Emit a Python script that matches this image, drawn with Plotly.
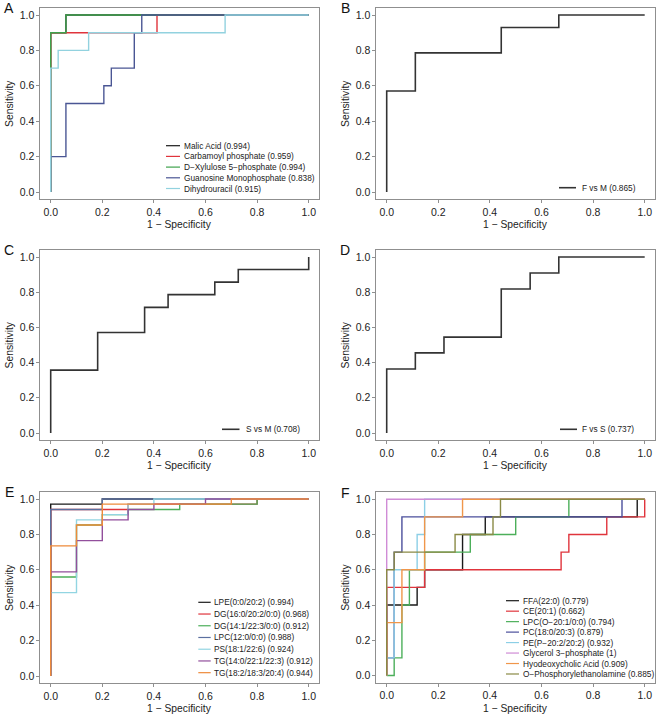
import plotly.graph_objects as go

W, H = 661, 722
FONT = "Liberation Sans, Arial, sans-serif"

# ---------------- data ----------------
# Panel A
a_names = ["Malic Acid (0.994)", "Carbamoyl phosphate (0.959)", "D−Xylulose 5−phosphate (0.994)",
           "Guanosine Monophosphate (0.838)", "Dihydrouracil (0.915)"]
a_malic_fpr = [0, 0, 0.059, 0.059, 1]
a_malic_tpr = [0, 0.9, 0.9, 1, 1]
a_carb_fpr = [0, 0, 0.412, 0.412, 1]
a_carb_tpr = [0, 0.9, 0.9, 1, 1]
a_xyl_fpr = [0, 0, 0.059, 0.059, 1]
a_xyl_tpr = [0, 0.9, 0.9, 1, 1]
a_guan_fpr = [0, 0, 0.059, 0.059, 0.206, 0.206, 0.235, 0.235, 0.324, 0.324, 0.353, 0.353, 1]
a_guan_tpr = [0, 0.2, 0.2, 0.5, 0.5, 0.6, 0.6, 0.7, 0.7, 0.9, 0.9, 1, 1]
a_dihy_fpr = [0, 0, 0.029, 0.029, 0.147, 0.147, 0.676, 0.676, 1]
a_dihy_tpr = [0, 0.7, 0.7, 0.8, 0.8, 0.9, 0.9, 1, 1]

# Panel B
b_names = ["F vs M (0.865)"]
b_fpr = [0, 0, 0.111, 0.111, 0.444, 0.444, 0.667, 0.667, 1]
b_tpr = [0, 0.571, 0.571, 0.786, 0.786, 0.929, 0.929, 1, 1]

# Panel C
c_names = ["S vs M (0.708)"]
c_fpr = [0, 0, 0.182, 0.182, 0.364, 0.364, 0.455, 0.455, 0.636, 0.636, 0.727, 0.727, 1, 1]
c_tpr = [0, 0.357, 0.357, 0.571, 0.571, 0.714, 0.714, 0.786, 0.786, 0.857, 0.857, 0.929, 0.929, 1]

# Panel D
d_names = ["F vs S (0.737)"]
d_fpr = [0, 0, 0.111, 0.111, 0.222, 0.222, 0.444, 0.444, 0.556, 0.556, 0.667, 0.667, 1]
d_tpr = [0, 0.364, 0.364, 0.455, 0.455, 0.545, 0.545, 0.818, 0.818, 0.909, 0.909, 1, 1]

# Panel E
e_names = ["LPE(0:0/20:2) (0.994)", "DG(16:0/20:2/0:0) (0.968)", "DG(14:1/22:3/0:0) (0.912)",
           "LPC(12:0/0:0) (0.988)", "PS(18:1/22:6) (0.924)", "TG(14:0/22:1/22:3) (0.912)",
           "TG(18:2/18:3/20:4) (0.944)"]
e_lpe_fpr = [0, 0, 0.2, 0.2, 1]
e_lpe_tpr = [0, 0.971, 0.971, 1, 1]
e_dg16_fpr = [0, 0, 0.3, 0.3, 0.8, 0.8, 1]
e_dg16_tpr = [0, 0.941, 0.941, 0.971, 0.971, 1, 1]
e_dg14_fpr = [0, 0, 0.1, 0.1, 0.2, 0.2, 0.3, 0.3, 0.5, 0.5, 0.8, 0.8, 1]
e_dg14_tpr = [0, 0.559, 0.559, 0.853, 0.853, 0.912, 0.912, 0.941, 0.941, 0.971, 0.971, 1, 1]
e_lpc_fpr = [0, 0, 0.2, 0.2, 1]
e_lpc_tpr = [0, 0.941, 0.941, 1, 1]
e_ps_fpr = [0, 0, 0.1, 0.1, 0.2, 0.2, 0.3, 0.3, 0.4, 0.4, 1]
e_ps_tpr = [0, 0.471, 0.471, 0.882, 0.882, 0.912, 0.912, 0.971, 0.971, 1, 1]
e_tg14_fpr = [0, 0, 0.1, 0.1, 0.2, 0.2, 0.3, 0.3, 0.4, 0.4, 0.6, 0.6, 1]
e_tg14_tpr = [0, 0.588, 0.588, 0.765, 0.765, 0.882, 0.882, 0.941, 0.941, 0.971, 0.971, 1, 1]
e_tg18_fpr = [0, 0, 0.1, 0.1, 0.2, 0.2, 0.7, 0.7, 1]
e_tg18_tpr = [0, 0.735, 0.735, 0.853, 0.853, 0.971, 0.971, 1, 1]

# Panel F
f_names = ["FFA(22:0) (0.779)", "CE(20:1) (0.662)", "LPC(O−20:1/0:0) (0.794)", "PC(18:0/20:3) (0.879)",
           "PE(P−20:2/20:2) (0.932)", "Glycerol 3−phosphate (1)", "Hyodeoxycholic Acid (0.909)",
           "O−Phosphorylethanolamine (0.885)"]
f_ffa_fpr = [0, 0, 0.118, 0.118, 0.147, 0.147, 0.294, 0.294, 0.382, 0.382, 0.971, 0.971, 1]
f_ffa_tpr = [0, 0.4, 0.4, 0.5, 0.5, 0.6, 0.6, 0.8, 0.8, 0.9, 0.9, 1, 1]
f_ce_fpr = [0, 0, 0.147, 0.147, 0.676, 0.676, 0.706, 0.706, 0.853, 0.853, 1, 1]
f_ce_tpr = [0, 0.5, 0.5, 0.6, 0.6, 0.7, 0.7, 0.8, 0.8, 0.9, 0.9, 1]
f_lpco_fpr = [0, 0.029, 0.029, 0.059, 0.059, 0.088, 0.088, 0.147, 0.147, 0.324, 0.324, 0.5, 0.5, 0.706, 0.706, 1]
f_lpco_tpr = [0, 0, 0.1, 0.1, 0.4, 0.4, 0.6, 0.6, 0.7, 0.7, 0.8, 0.8, 0.9, 0.9, 1, 1]
f_pc_fpr = [0, 0, 0.029, 0.029, 0.059, 0.059, 0.912, 0.912, 1]
f_pc_tpr = [0, 0.1, 0.1, 0.7, 0.7, 0.9, 0.9, 1, 1]
f_pe_fpr = [0, 0, 0.029, 0.029, 0.118, 0.118, 0.147, 0.147, 1]
f_pe_tpr = [0, 0.1, 0.1, 0.6, 0.6, 0.8, 0.8, 1, 1]
f_g3p_fpr = [0, 0, 1]
f_g3p_tpr = [0, 1, 1]
f_hdca_fpr = [0, 0, 0.059, 0.059, 0.147, 0.147, 0.294, 0.294, 1]
f_hdca_tpr = [0, 0.3, 0.3, 0.6, 0.6, 0.9, 0.9, 1, 1]
f_ope_fpr = [0, 0, 0.029, 0.029, 0.265, 0.265, 0.412, 0.412, 0.441, 0.441, 1]
f_ope_tpr = [0, 0.6, 0.6, 0.7, 0.7, 0.8, 0.8, 0.9, 0.9, 1, 1]

tick_vals = [0, 0.2, 0.4, 0.6, 0.8, 1.0]
tick_text = ["0.0", "0.2", "0.4", "0.6", "0.8", "1.0"]

# ---------------- styling ----------------
a_colors = ["#1a1a1a", "#e0343c", "#3fa34d", "#4a5694", "#92d2df"]
e_colors = ["#1a1a1a", "#e0343c", "#4caf5a", "#5b70a0", "#92d5e2", "#924f9c", "#ee8a3a"]
f_colors = ["#1a1a1a", "#e0343c", "#4caf5a", "#4b4f9c", "#8ccfe6", "#d08cd6", "#f0964a", "#8a8a45"]
single_color = "#333333"

# pixel geometry: (x of 0, x of 1, y of 0, y of 1)
geo = {
    "A": (50.7, 308.7, 192.0, 15.0),
    "B": (386.7, 644.7, 192.0, 15.0),
    "C": (50.7, 308.7, 433.0, 257.0),
    "D": (386.7, 644.7, 433.0, 257.0),
    "E": (50.7, 308.7, 676.0, 499.0),
    "F": (386.7, 644.7, 675.5, 499.3),
}

panels = [
    ("A", [(a_malic_fpr, a_malic_tpr), (a_carb_fpr, a_carb_tpr), (a_xyl_fpr, a_xyl_tpr),
           (a_guan_fpr, a_guan_tpr), (a_dihy_fpr, a_dihy_tpr)], a_names, a_colors, 1.4,
     dict(lx0=166, lx1=180, tx=181.5, y0=145.7, dy=10.7)),
    ("B", [(b_fpr, b_tpr)], b_names, [single_color], 1.6,
     dict(lx0=559, lx1=576, tx=579.5, y0=187.7, dy=10.7)),
    ("C", [(c_fpr, c_tpr)], c_names, [single_color], 1.6,
     dict(lx0=222, lx1=239.5, tx=243.5, y0=429.3, dy=10.7)),
    ("D", [(d_fpr, d_tpr)], d_names, [single_color], 1.6,
     dict(lx0=560, lx1=577, tx=579.5, y0=429.3, dy=10.7)),
    ("E", [(e_lpe_fpr, e_lpe_tpr), (e_dg16_fpr, e_dg16_tpr), (e_dg14_fpr, e_dg14_tpr),
           (e_lpc_fpr, e_lpc_tpr), (e_ps_fpr, e_ps_tpr), (e_tg14_fpr, e_tg14_tpr),
           (e_tg18_fpr, e_tg18_tpr)], e_names, e_colors, 1.4,
     dict(lx0=198.3, lx1=210.7, tx=212.3, y0=602.3, dy=11.73)),
    ("F", [(f_ffa_fpr, f_ffa_tpr), (f_ce_fpr, f_ce_tpr), (f_lpco_fpr, f_lpco_tpr),
           (f_pc_fpr, f_pc_tpr), (f_pe_fpr, f_pe_tpr), (f_g3p_fpr, f_g3p_tpr),
           (f_hdca_fpr, f_hdca_tpr), (f_ope_fpr, f_ope_tpr)], f_names, f_colors, 1.4,
     dict(lx0=506, lx1=519, tx=520.7, y0=600.7, dy=10.47)),
]

fig = go.Figure()
layout = dict(width=W, height=H, autosize=False, margin=dict(l=0, r=0, t=0, b=0),
              paper_bgcolor="white", plot_bgcolor="white", showlegend=False,
              font=dict(family=FONT, color="#222222"))
shapes, annotations = [], []

PAD = 0.04
for i, (key, curves, names, colors, lw, leg) in enumerate(panels):
    n = "" if i == 0 else str(i + 1)
    x0, x1, y0, y1 = geo[key]
    sx = x1 - x0
    sy = y0 - y1
    left, right = x0 - PAD * sx, x1 + PAD * sx
    bottom, top = y0 + PAD * sy, y1 - PAD * sy
    axcommon = dict(range=[-PAD, 1 + PAD], showgrid=False, zeroline=False, showline=True,
                    mirror=True, linecolor="#8f8f8f", linewidth=1, ticks="outside",
                    ticklen=3, tickcolor="#8f8f8f", tickvals=tick_vals, ticktext=tick_text,
                    tickfont=dict(size=10.5, color="#222222", family=FONT), fixedrange=True)
    layout["xaxis" + n] = dict(axcommon, domain=[left / W, right / W], anchor="y" + n)
    layout["yaxis" + n] = dict(axcommon, domain=[1 - bottom / H, 1 - top / H], anchor="x" + n)

    for (fpr, tpr), name, col in zip(curves, names, colors):
        fig.add_trace(go.Scatter(x=fpr, y=tpr, mode="lines", name=name,
                                 line=dict(color=col, width=lw),
                                 xaxis="x" + n, yaxis="y" + n, hoverinfo="skip"))

    # legend (drawn manually for tight spacing)
    for j, (name, col) in enumerate(zip(names, colors)):
        yy = 1 - (leg["y0"] + j * leg["dy"]) / H
        shapes.append(dict(type="line", xref="paper", yref="paper",
                           x0=leg["lx0"] / W, x1=leg["lx1"] / W, y0=yy, y1=yy,
                           line=dict(color=col, width=lw if lw > 1.5 else 1.2)))
        annotations.append(dict(text=name, xref="paper", yref="paper", x=leg["tx"] / W, y=yy,
                                xanchor="left", yanchor="middle", showarrow=False,
                                font=dict(size=8.3, color="#222222", family=FONT)))

    # axis titles
    annotations.append(dict(text="1 − Specificity", xref="paper", yref="paper",
                            x=((x0 + x1) / 2) / W, y=1 - (bottom + 25.5) / H,
                            xanchor="center", yanchor="middle", showarrow=False,
                            font=dict(size=10.3, color="#222222", family=FONT)))
    annotations.append(dict(text="Sensitivity", xref="paper", yref="paper",
                            x=(left - 31) / W, y=1 - ((top + bottom) / 2) / H, textangle=-90,
                            xanchor="center", yanchor="middle", showarrow=False,
                            font=dict(size=10.3, color="#222222", family=FONT)))
    # panel letter
    annotations.append(dict(text=key, xref="paper", yref="paper",
                            x=(left - 31) / W, y=1 - (top + 0.5) / H,
                            xanchor="center", yanchor="middle", showarrow=False,
                            font=dict(size=14, color="#111111", family=FONT)))

layout["shapes"] = shapes
layout["annotations"] = annotations
fig.update_layout(**layout)
fig.write_html("out.html", config={"displayModeBar": False, "staticPlot": True},
               post_script="document.body.style.margin='0px';")
